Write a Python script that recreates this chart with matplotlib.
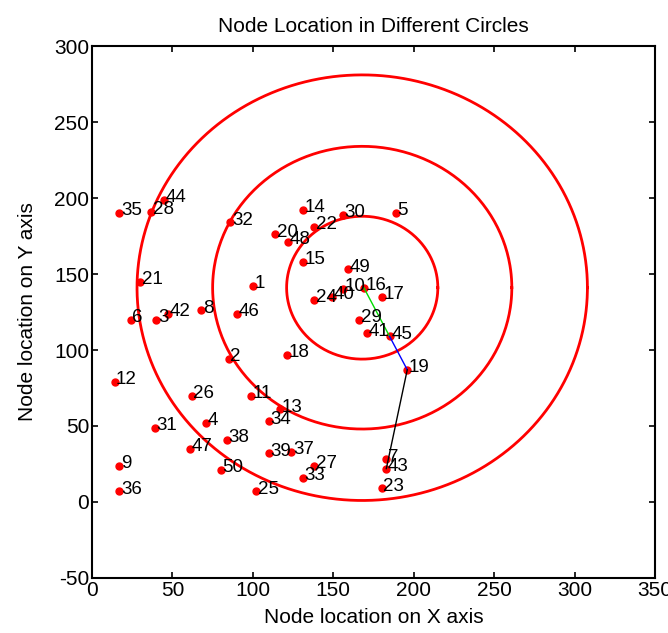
import numpy as np
import matplotlib
matplotlib.use('Agg')
import matplotlib.pyplot as plt

plt.rcParams['font.family'] = ['Liberation Sans', 'DejaVu Sans']
plt.rcParams['axes.unicode_minus'] = False

# node positions, node i+1 at index i
node_x = [100, 85, 40, 71, 189, 24, 183, 68, 17, 156,
          99, 14, 117, 131, 131, 169, 180, 121, 196, 114,
          30, 138, 180, 138, 102, 62, 138, 37, 166, 156,
          39, 86, 131, 110, 17, 17, 124, 84, 110, 149,
          171, 47, 183, 45, 185, 90, 61, 122, 159, 80]
node_y = [142, 94, 120, 52, 190, 120, 28, 126, 24, 140,
          70, 79, 61, 192, 158, 141, 135, 97, 87, 176,
          145, 181, 9, 133, 7, 70, 24, 191, 120, 189,
          49, 184, 16, 53, 190, 7, 33, 41, 32, 135,
          111, 124, 22, 199, 109, 124, 35, 171, 153, 21]

# circles
center_x, center_y = 168, 141
radii = [47, 93, 140]

# route between nodes
route = [16, 45, 19, 43]
route_colors = ['#00dd00', 'blue', 'black']

fig = plt.figure(figsize=(6.68, 6.33), dpi=100)
ax = fig.add_axes([0.1377, 0.0869, 0.8428, 0.8404])

ax.plot(node_x, node_y, 'o', color='red', ms=5, mec='red', zorder=3)
for i in range(len(node_x)):
    ax.text(node_x[i] + 1, node_y[i] + 1.5, str(i + 1), fontsize=13.5,
            ha='left', va='center', zorder=4)

t = np.linspace(0, 2 * np.pi, 400)
for r in radii:
    ax.plot(center_x + r * np.cos(t), center_y + r * np.sin(t), color='red', lw=2, zorder=2)

for k in range(len(route) - 1):
    a, b = route[k] - 1, route[k + 1] - 1
    ax.plot([node_x[a], node_x[b]], [node_y[a], node_y[b]], color=route_colors[k], lw=1, zorder=3)

ax.set_xlim(0, 350)
ax.set_ylim(-50, 300)
ax.set_xticks(range(0, 351, 50))
ax.set_yticks(range(-50, 301, 50))
ax.tick_params(direction='in', top=True, right=True, length=4, width=1.2, labelsize=15, pad=2)
for s in ax.spines.values():
    s.set_linewidth(1.5)

ax.set_title('Node Location in Different Circles', fontsize=15, pad=10)
ax.set_xlabel('Node location on X axis', fontsize=15, labelpad=6)
ax.set_ylabel('Node location on Y axis', fontsize=15, labelpad=12)

fig.savefig('out.png', dpi=100)
